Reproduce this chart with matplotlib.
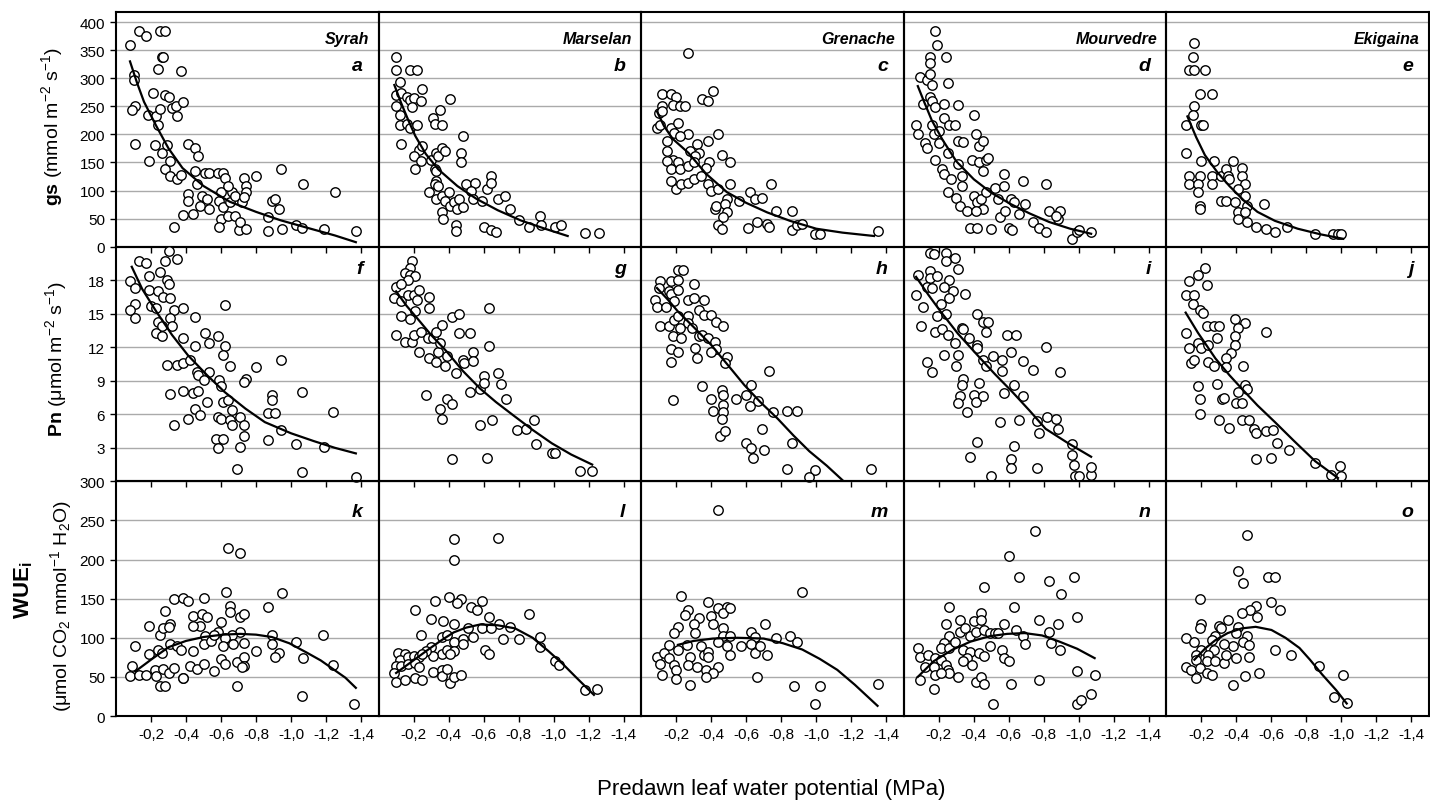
import matplotlib
matplotlib.use('Agg')
import matplotlib.pyplot as plt
from matplotlib.ticker import FuncFormatter

plt.rcParams['font.family'] = ['Liberation Sans', 'DejaVu Sans']
plt.rcParams['mathtext.fontset'] = 'custom'
plt.rcParams['mathtext.rm'] = 'Liberation Sans'
plt.rcParams['mathtext.it'] = 'Liberation Sans:italic'
plt.rcParams['mathtext.bf'] = 'Liberation Sans:bold'

cultivars = ['Syrah', 'Marselan', 'Grenache', 'Mourvedre', 'Ekigaina']
letters = [['a', 'b', 'c', 'd', 'e'],
           ['f', 'g', 'h', 'i', 'j'],
           ['k', 'l', 'm', 'n', 'o']]
x_ticks = [-0.2, -0.4, -0.6, -0.8, -1.0, -1.2, -1.4]

# ---- gs (mmol m-2 s-1) vs predawn leaf water potential ----
a_psi = [-0.08, -0.13, -0.17, -0.25, -0.28, -0.26, -0.27, -0.10, -0.10, -0.11,
         -0.09, -0.11, -0.19, -0.21, -0.18, -0.23, -0.24, -0.25, -0.24, -0.22,
         -0.29, -0.26, -0.28, -0.30, -0.32, -0.34, -0.35, -0.37, -0.38, -0.28,
         -0.31, -0.31, -0.35, -0.37, -0.41, -0.45, -0.47, -0.33, -0.38, -0.41,
         -0.41, -0.45, -0.46, -0.44, -0.49, -0.48, -0.52, -0.53, -0.51, -0.53,
         -0.58, -0.61, -0.62, -0.59, -0.60, -0.61, -0.60, -0.59, -0.64, -0.65,
         -0.66, -0.68, -0.64, -0.68, -0.70, -0.71, -0.74, -0.72, -0.73, -0.74,
         -0.74, -0.73, -0.80, -0.87, -0.89, -0.91, -0.93, -0.95, -0.87, -0.94,
         -1.07, -1.03, -1.06, -1.19, -1.25, -1.37]
a_val = [360, 385, 376, 385, 385, 337, 337, 306, 297, 251,
         244, 182, 152, 273, 234, 232, 316, 245, 216, 181,
         181, 167, 271, 267, 247, 251, 233, 313, 258, 138,
         152, 126, 120, 128, 182, 176, 161, 35, 57, 94,
         82, 135, 111, 58, 91, 73, 85, 67, 132, 132,
         132, 132, 123, 82, 97, 70, 49, 35, 55, 79,
         97, 91, 108, 55, 29, 44, 32, 79, 123, 108,
         98, 88, 125, 52, 82, 85, 67, 32, 28, 138,
         111, 38, 33, 32, 98, 28]
a_fit_psi = [-0.08, -0.12, -0.16, -0.23, -0.30, -0.38, -0.50, -0.65, -0.80, -0.94, -1.10, -1.25, -1.37]
a_fit_val = [330, 292, 258, 215, 175, 140, 108, 80, 62, 47, 33, 20, 8]

b_psi = [-0.10, -0.10, -0.18, -0.22, -0.12, -0.10, -0.13, -0.16, -0.18, -0.20,
         -0.24, -0.25, -0.10, -0.12, -0.12, -0.16, -0.18, -0.22, -0.19, -0.13,
         -0.41, -0.35, -0.31, -0.32, -0.36, -0.48, -0.23, -0.25, -0.20, -0.24,
         -0.21, -0.30, -0.33, -0.34, -0.36, -0.38, -0.32, -0.33, -0.47, -0.47,
         -0.33, -0.32, -0.34, -0.29, -0.33, -0.36, -0.40, -0.38, -0.41, -0.43,
         -0.45, -0.46, -0.48, -0.36, -0.37, -0.44, -0.44, -0.50, -0.55, -0.53,
         -0.54, -0.59, -0.62, -0.64, -0.64, -0.68, -0.72, -0.75, -0.60, -0.64,
         -0.67, -0.80, -0.86, -0.92, -0.93, -1.01, -1.04, -1.18, -1.26]
b_val = [337, 315, 315, 315, 294, 270, 273, 267, 262, 264,
         259, 280, 251, 235, 217, 219, 211, 216, 249, 182,
         263, 244, 229, 219, 216, 197, 173, 179, 161, 152,
         138, 155, 167, 161, 176, 170, 138, 135, 167, 151,
         117, 111, 108, 97, 85, 91, 97, 82, 73, 79,
         67, 85, 70, 61, 49, 38, 28, 111, 113, 99,
         85, 82, 102, 126, 114, 85, 91, 67, 35, 29,
         26, 48, 35, 55, 38, 35, 38, 24, 24]
b_fit_psi = [-0.09, -0.13, -0.17, -0.21, -0.27, -0.34, -0.45, -0.56, -0.68, -0.81, -0.95, -1.08]
b_fit_val = [288, 255, 225, 197, 165, 138, 108, 85, 65, 47, 32, 19]

c_psi = [-0.27, -0.12, -0.17, -0.20, -0.18, -0.22, -0.25, -0.12, -0.35, -0.38,
         -0.41, -0.10, -0.12, -0.09, -0.11, -0.17, -0.21, -0.19, -0.27, -0.22,
         -0.15, -0.32, -0.38, -0.44, -0.33, -0.28, -0.15, -0.18, -0.21, -0.15,
         -0.17, -0.22, -0.27, -0.31, -0.30, -0.39, -0.37, -0.46, -0.51, -0.17,
         -0.20, -0.23, -0.27, -0.30, -0.34, -0.38, -0.40, -0.44, -0.51, -0.49,
         -0.56, -0.42, -0.43, -0.48, -0.49, -0.47, -0.44, -0.46, -0.62, -0.65,
         -0.69, -0.74, -0.77, -0.86, -0.61, -0.66, -0.72, -0.73, -0.86, -0.89,
         -0.92, -0.99, -1.02, -1.35]
c_val = [345, 272, 272, 267, 253, 251, 251, 251, 263, 259,
         277, 238, 241, 211, 217, 211, 220, 203, 200, 197,
         188, 182, 188, 200, 167, 170, 170, 155, 150, 152,
         138, 138, 144, 161, 150, 151, 141, 164, 150, 117,
         102, 111, 114, 120, 126, 111, 99, 102, 111, 85,
         82, 67, 73, 76, 61, 52, 38, 32, 98, 85,
         86, 111, 64, 64, 33, 44, 41, 35, 29, 38,
         41, 23, 23, 28]
c_fit_psi = [-0.09, -0.13, -0.18, -0.27, -0.37, -0.49, -0.60, -0.72, -0.85, -1.00, -1.15, -1.33]
c_fit_val = [241, 215, 192, 167, 130, 97, 78, 61, 46, 32, 25, 19]

d_psi = [-0.18, -0.19, -0.15, -0.15, -0.24, -0.09, -0.13, -0.15, -0.16, -0.25,
         -0.11, -0.15, -0.16, -0.18, -0.23, -0.31, -0.07, -0.08, -0.12, -0.13,
         -0.16, -0.17, -0.20, -0.23, -0.26, -0.29, -0.40, -0.20, -0.18, -0.25,
         -0.31, -0.34, -0.41, -0.43, -0.45, -0.22, -0.23, -0.27, -0.31, -0.33,
         -0.33, -0.39, -0.43, -0.45, -0.47, -0.48, -0.25, -0.30, -0.32, -0.36,
         -0.40, -0.42, -0.44, -0.45, -0.41, -0.47, -0.52, -0.57, -0.57, -0.68,
         -0.81, -0.55, -0.58, -0.61, -0.63, -0.66, -0.69, -0.54, -0.38, -0.42,
         -0.50, -0.60, -0.62, -0.74, -0.77, -0.81, -0.83, -0.89, -0.88, -0.87,
         -0.96, -0.99, -1.07, -1.00]
d_val = [385, 360, 337, 327, 337, 302, 297, 307, 288, 292,
         254, 267, 260, 249, 254, 253, 216, 200, 185, 176,
         216, 200, 206, 229, 216, 216, 235, 185, 155, 166,
         188, 186, 200, 179, 188, 138, 129, 120, 147, 126,
         108, 155, 150, 135, 155, 158, 98, 86, 73, 64,
         91, 79, 85, 67, 64, 97, 105, 129, 108, 117,
         111, 52, 64, 85, 79, 58, 76, 85, 33, 33,
         32, 33, 30, 44, 33, 27, 64, 64, 49, 55,
         14, 26, 26, 29]
d_fit_psi = [-0.08, -0.12, -0.16, -0.22, -0.30, -0.40, -0.50, -0.61, -0.72, -0.83, -0.95, -1.07]
d_fit_val = [286, 255, 225, 191, 152, 120, 96, 76, 59, 44, 32, 23]

e_psi = [-0.16, -0.15, -0.13, -0.16, -0.22, -0.19, -0.26, -0.16, -0.15, -0.11,
         -0.20, -0.21, -0.11, -0.20, -0.27, -0.38, -0.13, -0.19, -0.13, -0.18,
         -0.18, -0.26, -0.26, -0.31, -0.34, -0.35, -0.36, -0.43, -0.43, -0.45,
         -0.41, -0.19, -0.19, -0.31, -0.34, -0.39, -0.41, -0.45, -0.46, -0.45,
         -0.56, -0.41, -0.46, -0.51, -0.57, -0.62, -0.69, -0.85, -0.95, -0.98,
         -1.00]
e_val = [362, 338, 315, 315, 315, 272, 272, 251, 235, 216,
         216, 216, 167, 152, 152, 152, 126, 126, 111, 111,
         98, 126, 111, 126, 138, 126, 120, 141, 126, 111,
         102, 73, 67, 82, 82, 79, 61, 91, 73, 61,
         76, 49, 44, 35, 32, 26, 35, 23, 23, 23,
         23]
e_fit_psi = [-0.12, -0.17, -0.22, -0.29, -0.36, -0.44, -0.52, -0.62, -0.75, -0.88, -1.01]
e_fit_val = [232, 195, 163, 133, 108, 83, 62, 46, 32, 22, 14]

# ---- Pn (umol m-2 s-1) ----
f_psi = [-0.30, -0.13, -0.17, -0.28, -0.35, -0.08, -0.11, -0.19, -0.25, -0.29,
         -0.30, -0.19, -0.24, -0.27, -0.31, -0.11, -0.08, -0.11, -0.20, -0.23,
         -0.33, -0.24, -0.26, -0.23, -0.26, -0.31, -0.32, -0.38, -0.29, -0.35,
         -0.38, -0.45, -0.38, -0.45, -0.42, -0.51, -0.53, -0.58, -0.62, -0.62,
         -0.61, -0.65, -0.31, -0.38, -0.33, -0.41, -0.45, -0.44, -0.47, -0.46,
         -0.47, -0.50, -0.48, -0.52, -0.53, -0.59, -0.60, -0.58, -0.60, -0.61,
         -0.64, -0.66, -0.65, -0.66, -0.71, -0.73, -0.73, -0.74, -0.73, -0.80,
         -0.87, -0.89, -0.89, -0.87, -0.91, -0.94, -0.94, -0.57, -0.58, -0.61,
         -0.69, -0.71, -1.03, -1.06, -1.06, -1.19, -1.24, -1.37]
f_val = [20.6, 19.7, 19.5, 19.7, 19.9, 17.9, 17.3, 18.4, 18.7, 18.0,
         17.7, 17.1, 17.0, 16.5, 16.4, 15.9, 15.3, 14.6, 15.7, 15.5,
         15.3, 14.3, 13.9, 13.3, 13.0, 14.6, 13.9, 15.5, 10.4, 10.4,
         10.6, 14.7, 12.8, 12.1, 10.9, 13.3, 12.4, 13.0, 15.8, 12.1,
         11.3, 10.3, 7.8, 8.1, 5.0, 5.6, 6.5, 7.9, 8.1, 9.8,
         9.5, 9.1, 5.9, 7.1, 9.8, 9.1, 8.5, 5.8, 5.6, 7.1,
         7.3, 6.4, 5.5, 5.0, 5.8, 5.0, 4.1, 9.2, 8.9, 10.2,
         3.7, 7.7, 7.3, 6.1, 6.1, 10.9, 4.6, 3.8, 3.0, 3.8,
         1.1, 3.1, 3.3, 0.8, 8.0, 3.1, 6.2, 0.4]
f_fit_psi = [-0.09, -0.15, -0.23, -0.32, -0.41, -0.52, -0.62, -0.74, -0.85, -1.00, -1.13, -1.25, -1.37]
f_fit_val = [19.2, 17.2, 15.2, 13.1, 11.3, 9.5, 8.0, 6.5, 5.3, 4.3, 3.6, 3.0, 2.5]

g_psi = [-0.19, -0.18, -0.15, -0.18, -0.21, -0.17, -0.10, -0.13, -0.09, -0.13,
         -0.17, -0.20, -0.23, -0.22, -0.29, -0.29, -0.13, -0.18, -0.21, -0.10,
         -0.15, -0.19, -0.20, -0.24, -0.23, -0.28, -0.31, -0.33, -0.36, -0.42,
         -0.46, -0.46, -0.52, -0.63, -0.29, -0.33, -0.34, -0.35, -0.38, -0.39,
         -0.44, -0.48, -0.49, -0.54, -0.54, -0.63, -0.27, -0.35, -0.36, -0.39,
         -0.42, -0.52, -0.58, -0.60, -0.60, -0.68, -0.70, -0.73, -0.58, -0.65,
         -0.79, -0.84, -0.89, -0.90, -0.99, -1.01, -0.42, -0.62, -1.15, -1.22]
g_val = [19.7, 19.1, 18.6, 18.5, 18.4, 18.0, 17.4, 17.7, 16.4, 16.1,
         16.7, 16.7, 17.1, 16.2, 16.5, 15.5, 14.8, 14.5, 15.2, 13.1,
         12.5, 12.5, 13.1, 13.4, 11.6, 12.8, 12.8, 13.4, 14.0, 14.7,
         15.0, 13.3, 13.3, 15.5, 11.0, 10.7, 11.6, 12.4, 10.3, 11.2,
         9.7, 10.9, 10.6, 11.6, 10.8, 12.1, 7.7, 6.5, 5.6, 7.4,
         6.9, 8.0, 8.3, 9.4, 8.8, 9.7, 8.7, 7.4, 5.0, 5.5,
         4.6, 4.7, 5.5, 3.3, 2.5, 2.5, 2.0, 2.1, 0.9, 0.9]
g_fit_psi = [-0.10, -0.16, -0.22, -0.30, -0.39, -0.48, -0.58, -0.67, -0.77, -0.88, -0.99, -1.10, -1.22]
g_fit_val = [17.0, 15.7, 14.6, 13.1, 11.6, 9.9, 8.3, 7.1, 5.9, 4.6, 3.4, 2.4, 1.5]

h_psi = [-0.21, -0.24, -0.11, -0.17, -0.21, -0.30, -0.10, -0.16, -0.17, -0.21,
         -0.08, -0.09, -0.14, -0.19, -0.27, -0.30, -0.36, -0.33, -0.36, -0.40,
         -0.43, -0.47, -0.11, -0.16, -0.19, -0.21, -0.27, -0.27, -0.18, -0.22,
         -0.23, -0.29, -0.33, -0.35, -0.38, -0.42, -0.43, -0.40, -0.17, -0.21,
         -0.17, -0.31, -0.32, -0.49, -0.48, -0.18, -0.35, -0.40, -0.41, -0.46,
         -0.47, -0.47, -0.47, -0.46, -0.54, -0.60, -0.63, -0.62, -0.67, -0.73,
         -0.75, -0.83, -0.89, -0.69, -0.45, -0.48, -0.60, -0.63, -0.70, -0.64,
         -0.86, -0.83, -0.99, -0.96, -1.31]
h_val = [18.9, 18.9, 17.9, 17.9, 18.0, 17.7, 17.3, 17.0, 16.8, 17.1,
         16.2, 15.6, 15.6, 16.1, 16.2, 16.4, 16.2, 15.3, 14.9, 14.9,
         14.3, 13.9, 13.9, 13.9, 14.4, 14.8, 14.8, 14.2, 13.0, 13.7,
         12.8, 13.7, 13.0, 13.1, 12.8, 12.5, 11.8, 11.6, 11.8, 11.6,
         10.7, 11.9, 11.0, 11.1, 10.6, 7.3, 8.5, 7.4, 6.3, 8.2,
         7.7, 6.8, 6.2, 5.6, 7.4, 7.7, 8.6, 6.7, 7.2, 9.9,
         6.2, 6.3, 6.3, 4.7, 4.1, 4.5, 3.4, 3.0, 2.8, 2.1,
         3.4, 1.1, 1.0, 0.4, 1.1]
h_fit_psi = [-0.09, -0.15, -0.21, -0.30, -0.40, -0.49, -0.59, -0.68, -0.78, -0.87, -0.96, -1.06, -1.15]
h_fit_val = [17.3, 16.3, 15.2, 13.8, 12.2, 10.5, 8.6, 7.1, 5.6, 4.1, 2.7, 1.4, 0.1]

i_psi = [-0.15, -0.17, -0.24, -0.24, -0.29, -0.31, -0.08, -0.15, -0.15, -0.19,
         -0.26, -0.13, -0.16, -0.23, -0.28, -0.26, -0.35, -0.07, -0.11, -0.21,
         -0.19, -0.24, -0.10, -0.18, -0.22, -0.25, -0.29, -0.33, -0.34, -0.37,
         -0.42, -0.45, -0.48, -0.47, -0.42, -0.13, -0.16, -0.23, -0.31, -0.30,
         -0.34, -0.33, -0.32, -0.31, -0.36, -0.40, -0.41, -0.43, -0.45, -0.42,
         -0.45, -0.47, -0.51, -0.56, -0.56, -0.61, -0.59, -0.64, -0.68, -0.74,
         -0.81, -0.89, -0.63, -0.68, -0.57, -0.55, -0.66, -0.76, -0.77, -0.82,
         -0.87, -0.88, -0.42, -0.38, -0.63, -0.61, -0.61, -0.50, -0.76, -0.96,
         -0.96, -0.97, -0.98, -1.00, -1.07, -1.07]
i_val = [20.4, 20.3, 20.4, 19.7, 20.0, 19.0, 18.5, 18.8, 18.2, 18.4,
         18.0, 17.4, 17.3, 17.4, 17.0, 16.4, 16.8, 16.7, 15.6, 15.9,
         14.8, 15.0, 13.9, 13.4, 13.6, 13.1, 12.4, 13.7, 13.6, 12.8,
         15.0, 14.3, 14.3, 13.4, 12.2, 10.7, 9.8, 11.3, 11.3, 10.3,
         9.2, 8.6, 7.6, 7.0, 6.2, 7.7, 7.1, 8.8, 7.6, 11.9,
         10.9, 10.3, 11.2, 10.9, 9.9, 11.6, 13.1, 13.1, 10.8, 10.0,
         12.0, 9.8, 8.6, 7.6, 7.9, 5.3, 5.5, 5.4, 4.3, 5.8,
         5.6, 4.7, 3.5, 2.2, 3.2, 2.0, 1.2, 0.5, 1.2, 3.3,
         2.4, 1.5, 0.5, 0.5, 0.6, 1.3]
i_fit_psi = [-0.07, -0.14, -0.21, -0.31, -0.42, -0.52, -0.62, -0.72, -0.81, -0.94, -1.07]
i_fit_val = [18.3, 16.7, 15.2, 13.2, 11.3, 9.6, 8.0, 6.3, 4.7, 3.4, 2.2]

j_psi = [-0.22, -0.18, -0.13, -0.23, -0.11, -0.16, -0.15, -0.19, -0.21, -0.11,
         -0.23, -0.27, -0.30, -0.29, -0.39, -0.45, -0.41, -0.39, -0.39, -0.37,
         -0.57, -0.13, -0.18, -0.20, -0.24, -0.24, -0.27, -0.14, -0.16, -0.34,
         -0.34, -0.44, -0.18, -0.19, -0.19, -0.29, -0.32, -0.33, -0.40, -0.43,
         -0.45, -0.46, -0.41, -0.30, -0.36, -0.43, -0.47, -0.50, -0.51, -0.57,
         -0.61, -0.63, -0.70, -0.51, -0.60, -0.85, -0.94, -0.99, -1.00]
j_val = [19.1, 18.5, 17.9, 17.6, 16.7, 16.7, 15.9, 15.3, 15.1, 13.3,
         13.9, 13.9, 13.9, 12.8, 14.5, 14.2, 13.7, 13.0, 12.2, 11.5,
         13.4, 11.9, 12.4, 11.9, 12.2, 10.7, 10.3, 10.6, 10.9, 11.0,
         10.2, 10.3, 8.5, 7.4, 6.0, 8.7, 7.4, 7.5, 7.0, 7.0,
         8.6, 8.3, 8.0, 5.5, 4.8, 5.5, 5.5, 4.7, 4.3, 4.5,
         4.6, 3.4, 2.8, 2.0, 2.1, 1.6, 0.6, 1.4, 0.5]
j_fit_psi = [-0.11, -0.18, -0.28, -0.36, -0.43, -0.52, -0.62, -0.73, -0.85, -0.98]
j_fit_val = [15.1, 13.3, 11.0, 9.5, 8.3, 6.8, 5.3, 3.6, 1.8, 0.3]

# ---- WUEi (umol CO2 mmol-1 H2O) ----
k_psi = [-0.64, -0.71, -0.63, -0.95, -0.87, -0.65, -0.65, -0.33, -0.38, -0.41,
         -0.50, -0.28, -0.31, -0.19, -0.11, -0.44, -0.49, -0.52, -0.48, -0.44,
         -0.60, -0.71, -0.73, -0.71, -0.58, -0.66, -0.62, -0.51, -0.25, -0.27,
         -0.30, -0.19, -0.24, -0.26, -0.31, -0.35, -0.37, -0.44, -0.50, -0.54,
         -0.56, -0.61, -0.67, -0.73, -0.80, -0.89, -0.89, -0.93, -1.03, -1.18,
         -0.60, -0.62, -0.56, -0.69, -0.73, -0.73, -0.72, -0.91, -1.07, -1.24,
         -0.09, -0.08, -0.13, -0.17, -0.22, -0.23, -0.27, -0.30, -0.33, -0.38,
         -0.42, -0.46, -0.50, -0.25, -0.28, -0.38, -0.69, -1.06, -1.36]
k_val = [215, 208, 159, 157, 139, 140, 133, 149, 151, 147,
         151, 134, 118, 115, 89, 128, 131, 127, 115, 115,
         120, 127, 130, 108, 108, 104, 100, 102, 104, 112,
         114, 79, 85, 81, 92, 89, 85, 83, 92, 96,
         104, 90, 92, 93, 83, 104, 92, 81, 94, 104,
         73, 67, 57, 69, 75, 64, 63, 75, 74, 65,
         64, 51, 53, 53, 59, 51, 60, 55, 62, 49,
         64, 60, 66, 38, 38, 49, 38, 25, 15]
k_fit_psi = [-0.11, -0.20, -0.30, -0.40, -0.50, -0.61, -0.71, -0.80, -0.89, -0.99, -1.09, -1.17, -1.24, -1.31, -1.37]
k_fit_val = [57, 72, 88, 96, 101, 104, 105, 104, 101, 93, 81, 71, 60, 49, 36]

l_psi = [-0.43, -0.68, -0.43, -0.40, -0.47, -0.45, -0.32, -0.21, -0.59, -0.53,
         -0.56, -0.86, -0.30, -0.37, -0.43, -0.63, -0.69, -0.75, -0.51, -0.59,
         -0.64, -0.24, -0.36, -0.39, -0.43, -0.48, -0.54, -0.48, -0.71, -0.80,
         -0.92, -0.92, -0.61, -0.63, -0.30, -0.36, -0.31, -0.27, -0.39, -0.43,
         -0.11, -0.15, -0.12, -0.17, -0.20, -0.23, -0.25, -0.10, -0.13, -0.17,
         -0.21, -0.23, -0.09, -0.10, -0.15, -0.21, -0.25, -0.31, -0.36, -0.36,
         -0.39, -0.41, -0.43, -0.47, -0.41, -1.01, -1.03, -1.18, -1.25]
l_val = [226, 228, 200, 152, 150, 144, 147, 136, 147, 139,
         136, 130, 124, 121, 118, 127, 117, 114, 112, 113,
         113, 104, 101, 103, 94, 99, 101, 92, 99, 98,
         101, 88, 85, 79, 88, 79, 77, 83, 85, 83,
         81, 79, 71, 75, 77, 75, 79, 64, 64, 66,
         68, 63, 55, 44, 46, 49, 46, 56, 59, 51,
         60, 42, 50, 53, 79, 70, 65, 33, 34]
l_fit_psi = [-0.10, -0.18, -0.29, -0.36, -0.43, -0.50, -0.58, -0.68, -0.78, -0.88, -0.97, -1.05, -1.13, -1.23]
l_fit_val = [55, 68, 86, 97, 107, 113, 117, 116, 112, 100, 83, 67, 49, 27]

m_psi = [-0.44, -0.23, -0.38, -0.44, -0.49, -0.47, -0.51, -0.27, -0.25, -0.33,
         -0.40, -0.21, -0.19, -0.30, -0.92, -0.41, -0.47, -0.47, -0.51, -0.44,
         -0.49, -0.51, -0.63, -0.65, -0.71, -0.77, -0.85, -0.89, -0.57, -0.63,
         -0.65, -0.72, -0.68, -0.09, -0.13, -0.11, -0.16, -0.19, -0.16, -0.21,
         -0.26, -0.28, -0.31, -0.34, -0.36, -0.38, -0.38, -0.27, -0.20, -0.32,
         -0.37, -0.44, -0.41, -0.37, -0.12, -0.20, -0.28, -0.66, -0.87, -1.02,
         -0.99, -1.35]
m_val = [263, 154, 146, 138, 139, 132, 138, 136, 129, 125,
         128, 114, 106, 118, 158, 117, 112, 102, 102, 95,
         89, 78, 107, 101, 118, 100, 102, 94, 89, 92,
         80, 78, 89, 76, 80, 67, 74, 65, 91, 85,
         91, 76, 106, 89, 78, 82, 76, 65, 59, 63,
         59, 63, 55, 50, 53, 47, 40, 50, 38, 38,
         15, 41]
m_fit_psi = [-0.21, -0.30, -0.41, -0.55, -0.70, -0.81, -0.92, -1.02, -1.12, -1.22, -1.35]
m_fit_val = [91, 96, 99, 100, 99, 93, 85, 73, 59, 40, 13]

n_psi = [-0.75, -0.60, -0.66, -0.83, -0.97, -0.46, -0.90, -0.26, -0.63, -0.32,
         -0.40, -0.44, -0.44, -0.57, -0.77, -0.88, -0.99, -0.24, -0.26, -0.32,
         -0.35, -0.38, -0.41, -0.46, -0.49, -0.52, -0.54, -0.64, -0.68, -0.69,
         -0.83, -0.84, -0.89, -0.23, -0.21, -0.26, -0.29, -0.34, -0.38, -0.43,
         -0.46, -0.49, -0.56, -0.57, -0.60, -0.36, -0.34, -0.39, -0.08, -0.09,
         -0.14, -0.12, -0.18, -0.21, -0.17, -0.24, -0.25, -0.26, -0.09, -0.18,
         -0.21, -0.17, -0.31, -0.41, -0.44, -0.46, -0.61, -0.77, -0.99, -1.09,
         -0.51, -0.99, -1.01, -1.07]
n_val = [237, 205, 178, 172, 178, 165, 156, 139, 139, 123,
         121, 132, 123, 118, 123, 117, 126, 118, 102, 108,
         112, 102, 107, 110, 106, 106, 106, 110, 102, 92,
         107, 93, 85, 93, 87, 87, 95, 85, 82, 80,
         77, 89, 85, 74, 70, 74, 70, 65, 87, 76,
         78, 63, 74, 72, 63, 65, 59, 55, 46, 53,
         55, 34, 50, 44, 50, 41, 41, 46, 58, 53,
         15, 15, 20, 28]
n_fit_psi = [-0.08, -0.17, -0.28, -0.38, -0.49, -0.59, -0.69, -0.79, -0.89, -0.99, -1.09]
n_fit_val = [50, 70, 85, 95, 102, 105, 106, 103, 95, 86, 74]

o_psi = [-0.46, -0.41, -0.44, -0.58, -0.62, -0.19, -0.60, -0.51, -0.65, -0.48,
         -0.43, -0.52, -0.35, -0.30, -0.31, -0.20, -0.19, -0.28, -0.26, -0.11,
         -0.16, -0.41, -0.40, -0.46, -0.44, -0.38, -0.33, -0.47, -0.27, -0.20,
         -0.17, -0.24, -0.23, -0.17, -0.28, -0.33, -0.34, -0.40, -0.47, -0.62,
         -0.71, -0.11, -0.14, -0.19, -0.23, -0.26, -0.17, -0.38, -0.45, -0.53,
         -0.87, -1.01, -0.96, -1.03]
o_val = [231, 186, 170, 178, 178, 149, 146, 141, 136, 136,
         132, 127, 123, 115, 112, 117, 112, 102, 97, 100,
         95, 114, 106, 102, 95, 89, 92, 91, 85, 85,
         78, 78, 70, 72, 70, 68, 78, 74, 75, 85,
         78, 63, 59, 61, 55, 53, 48, 40, 51, 55,
         64, 53, 24, 16]
o_fit_psi = [-0.16, -0.22, -0.28, -0.35, -0.43, -0.51, -0.60, -0.68, -0.76, -0.82, -0.89, -0.97, -1.03]
o_fit_val = [72, 86, 97, 106, 112, 114, 110, 100, 87, 72, 53, 33, 16]

panels = [
    [(a_psi, a_val, a_fit_psi, a_fit_val), (b_psi, b_val, b_fit_psi, b_fit_val),
     (c_psi, c_val, c_fit_psi, c_fit_val), (d_psi, d_val, d_fit_psi, d_fit_val),
     (e_psi, e_val, e_fit_psi, e_fit_val)],
    [(f_psi, f_val, f_fit_psi, f_fit_val), (g_psi, g_val, g_fit_psi, g_fit_val),
     (h_psi, h_val, h_fit_psi, h_fit_val), (i_psi, i_val, i_fit_psi, i_fit_val),
     (j_psi, j_val, j_fit_psi, j_fit_val)],
    [(k_psi, k_val, k_fit_psi, k_fit_val), (l_psi, l_val, l_fit_psi, l_fit_val),
     (m_psi, m_val, m_fit_psi, m_fit_val), (n_psi, n_val, n_fit_psi, n_fit_val),
     (o_psi, o_val, o_fit_psi, o_fit_val)],
]
row_ylim = [(0, 418), (0, 21), (0, 300)]
row_yticks = [list(range(0, 401, 50)), list(range(3, 19, 3)), list(range(0, 301, 50))]
letter_y = [0.773, 0.905, 0.87]

W, H = 1430, 803
left, top = 116, 13
pw, ph = 262.6, 234.67

fig = plt.figure(figsize=(W / 100, H / 100), dpi=100)
comma_fmt = FuncFormatter(lambda v, p: f"{v:.1f}".replace('.', ','))

for r in range(3):
    for c in range(5):
        ax = fig.add_axes([(left + c * pw) / W, 1 - (top + (r + 1) * ph) / H, pw / W, ph / H])
        ax.patch.set_visible(False)
        psi, val, fit_psi, fit_val = panels[r][c]
        ax.plot(psi, val, 'o', ms=6.8, mfc='white', mec='black', mew=1.0,
                clip_on=False, zorder=3)
        ax.plot(fit_psi, fit_val, color='black', lw=1.6, zorder=4)

        ax.set_xlim(0, -1.5)
        ax.set_ylim(*row_ylim[r])
        ax.set_xticks(x_ticks)
        ax.xaxis.set_major_formatter(comma_fmt)
        ax.set_yticks(row_yticks[r])
        ax.yaxis.grid(True, color='#aaaaaa', lw=1)
        ax.set_axisbelow(True)
        for s in ax.spines.values():
            s.set_linewidth(1.5)
            s.set_color('black')

        ax.tick_params(axis='x', direction='out', length=4, width=1, pad=4,
                       labelsize=11, labelbottom=(r == 2))
        if c == 0:
            ax.tick_params(axis='y', direction='out', length=4, width=1, pad=4,
                           labelsize=11)
        else:
            ax.tick_params(axis='y', length=0, labelleft=False)

        if r == 0:
            ax.text(0.965, 0.885, cultivars[c], transform=ax.transAxes, ha='right',
                    va='center', fontsize=11.5, fontweight='bold', fontstyle='italic')
        ax.text(0.94, letter_y[r], letters[r][c], transform=ax.transAxes, ha='right',
                va='center', fontsize=14, fontweight='bold', fontstyle='italic')

# axis titles
fig.text(52 / W, 1 - 127 / H, r'$\mathbf{gs}$ (mmol m$^{-2}$ s$^{-1}$)',
         rotation=90, ha='center', va='center', fontsize=14)
fig.text(56 / W, 1 - 359 / H, r'$\mathbf{Pn}$ (μmol m$^{-2}$ s$^{-1}$)',
         rotation=90, ha='center', va='center', fontsize=14)
fig.text(24 / W, 1 - 590 / H, r'$\mathbf{WUE}_\mathbf{i}$',
         rotation=90, ha='center', va='center', fontsize=16)
fig.text(61 / W, 1 - 606 / H, r'(μmol CO$_2$ mmol$^{-1}$ H$_2$O)',
         rotation=90, ha='center', va='center', fontsize=14)
fig.text(771 / W, 1 - 790 / H, 'Predawn leaf water potential (MPa)',
         ha='center', va='center', fontsize=16)

fig.savefig('out.png', dpi=100)
